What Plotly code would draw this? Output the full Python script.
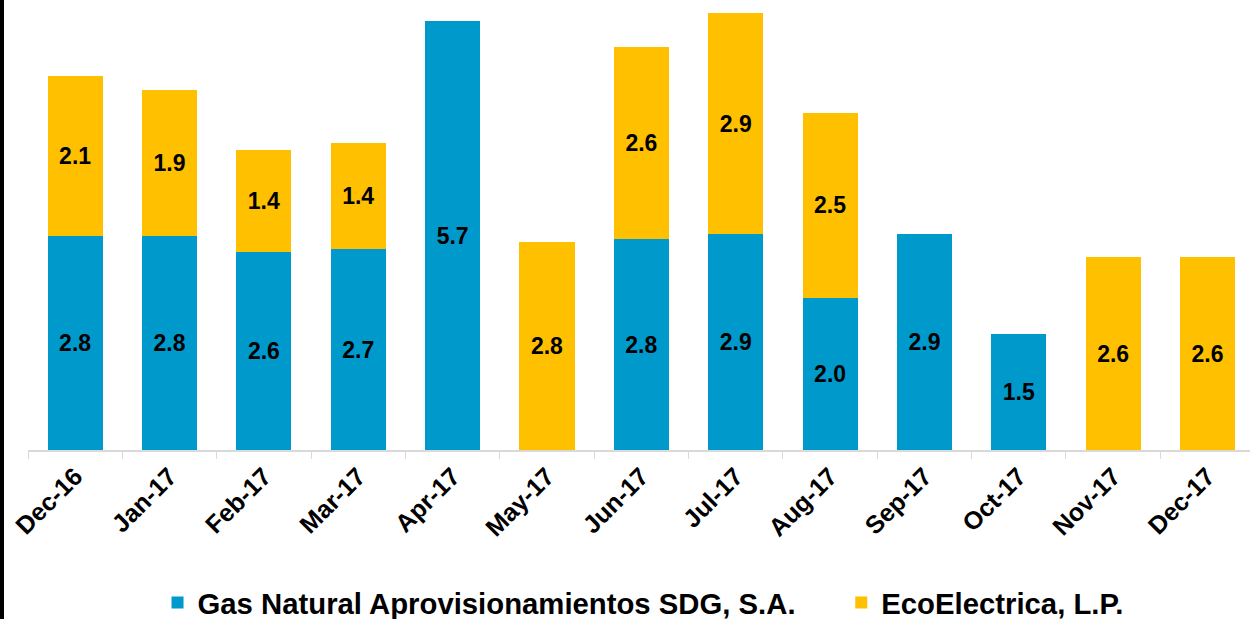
import plotly.graph_objects as go

months = ["Dec-16", "Jan-17", "Feb-17", "Mar-17", "Apr-17", "May-17", "Jun-17",
          "Jul-17", "Aug-17", "Sep-17", "Oct-17", "Nov-17", "Dec-17"]
gas_natural = [2.84, 2.84, 2.63, 2.67, 5.70, None, 2.80, 2.87, 2.02, 2.87, 1.54, None, None]
ecoelectrica = [2.13, 1.94, 1.36, 1.41, None, 2.76, 2.56, 2.93, 2.46, None, None, 2.56, 2.56]

series_names = ["Gas Natural Aprovisionamientos SDG, S.A.", "EcoElectrica, L.P."]
colors = ["#0099CC", "#FFC000"]

FONT = "Liberation Sans, Arial, sans-serif"
PAD = "\u00a0" * 5

fig = go.Figure()
for i, (name, vals, col) in enumerate(zip(series_names, [gas_natural, ecoelectrica], colors)):
    fig.add_trace(go.Bar(
        x=months, y=vals, name=name + (PAD if i == 0 else ""),
        marker=dict(color=col, line=dict(width=0)),
        texttemplate="%{y:.1f}", textposition="inside", insidetextanchor="middle",
        textfont=dict(family=FONT, size=23, color="black", weight="bold"),
        textangle=0,
    ))

fig.update_layout(
    barmode="stack", bargap=0.417,
    width=1250, height=619,
    margin=dict(l=28, r=0, t=0, b=169, autoexpand=False),
    paper_bgcolor="white", plot_bgcolor="white",
    showlegend=True,
    legend=dict(orientation="h", x=0.106, xanchor="left", y=-0.34, yanchor="middle",
                font=dict(family=FONT, size=29.3, color="black", weight="bold"),
                traceorder="normal"),
    uniformtext=dict(mode=False),
)
fig.update_xaxes(range=[-0.5, 12.45], showline=True, linecolor="#d9d9d9", linewidth=1.5,
                 ticks="outside", tickson="boundaries", ticklen=7, tickcolor="#d9d9d9",
                 tickangle=-45, showgrid=False,
                 tickfont=dict(family=FONT, size=25, color="black", weight="bold"))
fig.update_yaxes(range=[0, 5.979], visible=False, showgrid=False, zeroline=False)

fig.add_shape(type="rect", xref="paper", yref="paper",
              x0=-28/1222, x1=-24/1222, y0=-169/450, y1=1.0,
              fillcolor="black", line=dict(width=0), layer="above")

fig.write_html(
    "out.html",
    config={"displayModeBar": False},
    post_script="document.body.style.margin='0';document.body.style.overflow='hidden';",
)
